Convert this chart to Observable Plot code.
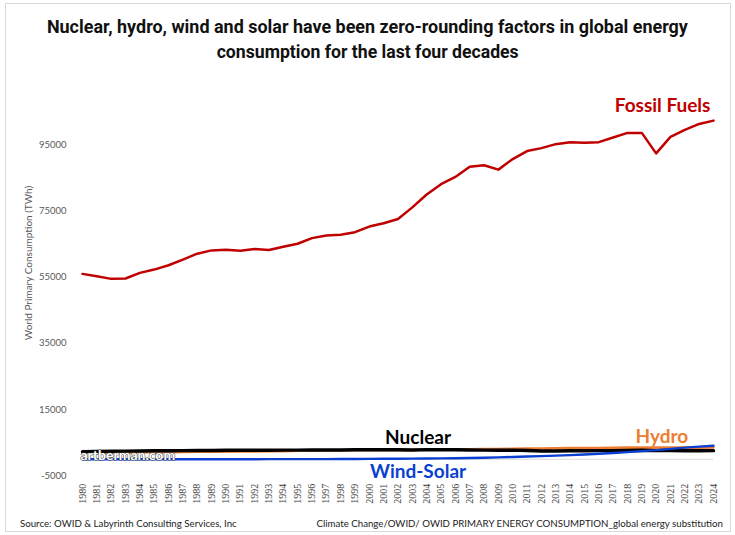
<!DOCTYPE html>
<html><head><meta charset="utf-8">
<script src="https://cdn.jsdelivr.net/npm/d3@7"></script>
<script src="https://cdn.jsdelivr.net/npm/@observablehq/plot@0.6"></script>
<style>
body{margin:0;background:#fff;}
#wrap{position:relative;width:735px;height:535px;overflow:hidden;font-family:Lato,"Liberation Sans",sans-serif;}
#frame{position:absolute;left:5px;top:3px;width:726px;height:529px;border:1px solid #d9d9d9;box-sizing:border-box;}
#title{position:absolute;top:14px;left:0;width:735px;text-align:center;font-weight:bold;font-size:19px;line-height:25px;font-family:Roboto,"Liberation Sans",sans-serif;color:#111;}
#title span{display:inline-block;white-space:nowrap;transform-origin:center center;}
#chart{position:absolute;left:0;top:0;}
#ylab{position:absolute;left:28px;top:263px;transform:translate(-50%,-50%) rotate(-90deg);white-space:nowrap;font-size:10px;color:#595959;}
.cap{position:absolute;top:517px;font-size:9.7px;color:#222;white-space:nowrap;}
</style></head>
<body><div id="wrap">
<div id="frame"></div>
<div id="chart"></div>
<div id="title"><span data-w="641">Nuclear, hydro, wind and solar have been zero-rounding factors in global energy</span><br><span data-w="302">consumption for the last four decades</span></div>
<div id="ylab">World Primary Consumption (TWh)</div>
<div class="cap" style="left:20px">Source: OWID &amp; Labyrinth Consulting Services, Inc</div>
<div class="cap" style="right:12px">Climate Change/OWID/ OWID PRIMARY ENERGY CONSUMPTION_global energy substitution</div>
</div>
<script>
const years = [1980,1981,1982,1983,1984,1985,1986,1987,1988,1989,1990,1991,1992,1993,1994,1995,1996,1997,1998,1999,2000,2001,2002,2003,2004,2005,2006,2007,2008,2009,2010,2011,2012,2013,2014,2015,2016,2017,2018,2019,2020,2021,2022,2023,2024];
const fossil = [56000,55300,54500,54600,56300,57300,58600,60300,62100,63100,63300,63000,63500,63200,64200,65100,66800,67600,67800,68600,70300,71300,72600,76100,80000,83100,85300,88400,88800,87500,90700,93100,94000,95200,95800,95600,95800,97200,98600,98600,92400,97400,99500,101300,102300];
const nuclear = [2300,2350,2400,2450,2500,2550,2550,2600,2650,2650,2700,2700,2700,2700,2750,2750,2800,2800,2800,2850,2850,2850,2850,2800,2900,2850,2850,2800,2750,2700,2750,2650,2500,2500,2550,2550,2600,2600,2650,2700,2600,2650,2550,2550,2600];
const hydro = [1900,1950,2000,2050,2100,2150,2150,2200,2250,2250,2300,2350,2350,2450,2450,2550,2600,2650,2650,2700,2750,2700,2750,2750,2850,2900,2950,3000,3050,3050,3150,3200,3250,3300,3350,3350,3400,3450,3500,3500,3550,3500,3550,3500,3600];
const windSolar = [0,0,0,0,0,5,5,5,10,10,15,15,20,25,30,35,40,50,60,80,100,130,160,190,230,270,320,390,470,560,680,820,950,1100,1250,1450,1650,1900,2150,2450,2750,3150,3500,3800,4100];
const yTicks = [-5000,15000,35000,55000,75000,95000];
const seriesNames = ["Hydro","Nuclear","Wind-Solar","Fossil Fuels"];
const seriesColors = ["#ed7d31","#000000","#0a3fd1","#c00000"];
const labels = [
  {name:"Fossil Fuels", year:2020.45, value:106600},
  {name:"Nuclear", year:2003.4, value:6300},
  {name:"Hydro", year:2020.4, value:6600},
  {name:"Wind-Solar", year:2003.4, value:-3700}
];
const watermark = [{name:"artberman.com", year:1980, value:1100}];

const seriesValues = {"Hydro":hydro,"Nuclear":nuclear,"Wind-Solar":windSolar,"Fossil Fuels":fossil};
const widths = {"Hydro":2.6,"Nuclear":3.4,"Wind-Solar":2.4,"Fossil Fuels":2.5};
const rows = seriesNames.flatMap(s => years.map((yr,i)=>({series:s, year:yr, value:seriesValues[s][i]})));
const color = d3.scaleOrdinal(seriesNames, seriesColors);

const chart = Plot.plot({
  width:735, height:510,
  marginLeft:82, marginRight:22, marginTop:78.1, marginBottom:34.7,
  style:{fontFamily:"Lato, 'Liberation Sans', sans-serif", fontSize:"9px", color:"#595959", background:"transparent", overflow:"visible"},
  x:{domain:[1980,2024], label:null},
  y:{domain:[-5000,115000], label:null},
  marks:[
    Plot.ruleY([0],{stroke:"#d9d9d9", strokeWidth:1}),
    Plot.axisX({ticks:years, tickFormat:d=>String(d), tickRotate:-90, tickSize:0, tickPadding:8, fontFamily:"'Liberation Serif', serif", fontSize:10, fill:"#404040"}),
    Plot.axisY({ticks:yTicks, tickFormat:d=>String(d), tickSize:0, tickPadding:16, fontSize:9.5, fill:"#595959"}),
    ...seriesNames.map(s => Plot.line(rows.filter(r=>r.series===s), {x:"year", y:"value", stroke:color(s), strokeWidth:widths[s], curve:"linear"})),
    Plot.text(watermark, {x:"year", y:"value", text:"name", textAnchor:"start", dx:-2, fill:"white", stroke:"#333", strokeWidth:1, fontWeight:"bold", fontSize:14}),
    Plot.text(labels, {x:"year", y:"value", text:"name", fill:d=>color(d.name), fontWeight:"bold", fontSize:19, fontFamily:"Lato, sans-serif"})
  ]
});
document.getElementById("chart").appendChild(chart);
document.querySelectorAll("#title span").forEach(sp => {
  const w = sp.getBoundingClientRect().width;
  const target = +sp.dataset.w;
  if (w > 0) sp.style.transform = `scaleX(${target / w})`;
});
</script>
</body></html>
